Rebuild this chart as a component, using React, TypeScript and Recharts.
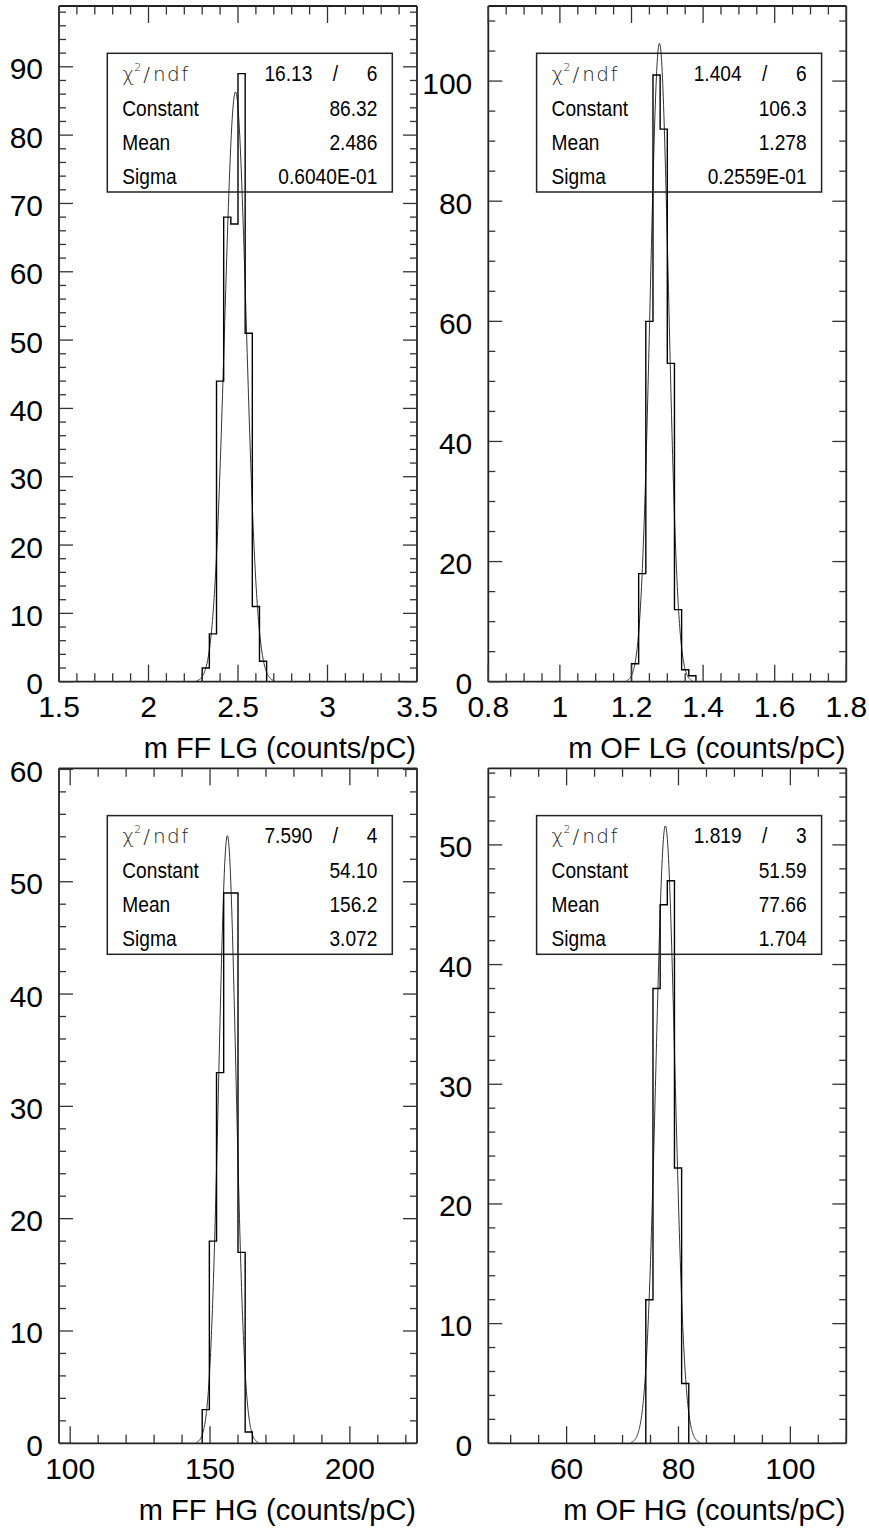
import React from 'react';
import { ComposedChart, Line, XAxis, YAxis } from 'recharts';

// ---------- Panel 1 : m FF LG ----------
const ffLgTitle = 'm FF LG (counts/pC)';
const ffLgCounts = [2, 7, 44, 68, 67, 89, 51, 11, 3];
const ffLgFirstEdge = 2.3;
const ffLgBinWidth = 0.04;
const ffLgFitParams = [86.32, 2.486, 0.0604]; // constant, mean, sigma
const ffLgStats = ['16.13', '6', '86.32', '2.486', '0.6040E-01'];
const ffLgXDomain = [1.5, 3.5];
const ffLgXMajor = [1.5, 2, 2.5, 3, 3.5];
const ffLgXLabels = ['1.5', '2', '2.5', '3', '3.5'];
const ffLgYMax = 98.9;
const ffLgYMajor = [0, 10, 20, 30, 40, 50, 60, 70, 80, 90];
const ffLgYLabels = ['0', '10', '20', '30', '40', '50', '60', '70', '80', '90'];

// ---------- Panel 2 : m OF LG ----------
const ofLgTitle = 'm OF LG (counts/pC)';
const ofLgCounts = [3, 18, 60, 101, 92, 53, 12, 2, 1];
const ofLgFirstEdge = 1.2;
const ofLgBinWidth = 0.02;
const ofLgFitParams = [106.3, 1.278, 0.02559];
const ofLgStats = ['1.404', '6', '106.3', '1.278', '0.2559E-01'];
const ofLgXDomain = [0.8, 1.8];
const ofLgXMajor = [0.8, 1, 1.2, 1.4, 1.6, 1.8];
const ofLgXLabels = ['0.8', '1', '1.2', '1.4', '1.6', '1.8'];
const ofLgYMax = 112.5;
const ofLgYMajor = [0, 20, 40, 60, 80, 100];
const ofLgYLabels = ['0', '20', '40', '60', '80', '100'];

// ---------- Panel 3 : m FF HG ----------
const ffHgTitle = 'm FF HG (counts/pC)';
const ffHgCounts = [3, 18, 33, 49, 49, 17, 1];
const ffHgFirstEdge = 147.2;
const ffHgBinWidth = 2.56;
const ffHgFitParams = [54.1, 156.2, 3.072];
const ffHgStats = ['7.590', '4', '54.10', '156.2', '3.072'];
const ffHgXDomain = [96, 224];
const ffHgXMajor = [100, 150, 200];
const ffHgXLabels = ['100', '150', '200'];
const ffHgYMax = 60.1;
const ffHgYMajor = [0, 10, 20, 30, 40, 50, 60];
const ffHgYLabels = ['0', '10', '20', '30', '40', '50', '60'];

// ---------- Panel 4 : m OF HG ----------
const ofHgTitle = 'm OF HG (counts/pC)';
const ofHgCounts = [12, 38, 45, 47, 23, 5];
const ofHgFirstEdge = 74.16;
const ofHgBinWidth = 1.28;
const ofHgFitParams = [51.59, 77.66, 1.704];
const ofHgStats = ['1.819', '3', '51.59', '77.66', '1.704'];
const ofHgXDomain = [46, 110];
const ofHgXMajor = [60, 80, 100];
const ofHgXLabels = ['60', '80', '100'];
const ofHgYMax = 56.4;
const ofHgYMajor = [0, 10, 20, 30, 40, 50];
const ofHgYLabels = ['0', '10', '20', '30', '40', '50'];

const statNames = ['Constant', 'Mean', 'Sigma'];

const FONT = '"Liberation Sans", Arial, Helvetica, sans-serif';
const FRAME = '#222';
const TICK = '#333';

function steps(lo: number, hi: number, step: number) {
  const out: number[] = [];
  const n = Math.round((hi - lo) / step);
  for (let i = 0; i <= n; i++) out.push(+(lo + i * step).toFixed(6));
  return out;
}

function mergeTicks(major: number[], minor: number[]) {
  const all = [...major, ...minor].map((v) => +v.toFixed(6));
  return Array.from(new Set(all)).sort((a, b) => a - b);
}

function histSteps(first: number, width: number, counts: number[]) {
  const pts = [{ x: first, y: 0 }];
  counts.forEach((c, i) => pts.push({ x: +(first + i * width).toFixed(6), y: c }));
  pts.push({ x: +(first + counts.length * width).toFixed(6), y: 0 });
  return pts;
}

// fitted gaussian drawn from the fit parameters shown in the stats box
function gaussCurve(p: number[]) {
  const [c, m, s] = p;
  const pts: { x: number; y: number }[] = [];
  const n = 240;
  const lo = m - 3.6 * s;
  const hi = m + 3.6 * s;
  for (let i = 0; i <= n; i++) {
    const x = lo + ((hi - lo) * i) / n;
    pts.push({ x, y: c * Math.exp(-0.5 * ((x - m) / s) ** 2) });
  }
  return pts;
}

function majorIndex(majors: number[], v: number) {
  return majors.findIndex((m) => Math.abs(m - v) < 1e-6);
}

const makeXTick = (majors: number[], labels: string[], side: 'bottom' | 'top') => (props: any) => {
  const { x, y, payload } = props;
  const idx = majorIndex(majors, payload.value);
  const len = idx >= 0 ? 17 : 8.5;
  const dir = side === 'bottom' ? -1 : 1;
  return (
    <g>
      <line x1={x} y1={y} x2={x} y2={y + dir * len} stroke={TICK} strokeWidth={1.3} />
      {side === 'bottom' && idx >= 0 && (
        <text x={x} y={y + 35.5} textAnchor="middle" fontFamily={FONT} fontSize={30} fill="#000">
          {labels[idx]}
        </text>
      )}
    </g>
  );
};

const makeYTick = (majors: number[], labels: string[], side: 'left' | 'right') => (props: any) => {
  const { x, y, payload } = props;
  const idx = majorIndex(majors, payload.value);
  const len = idx >= 0 ? 14 : 7;
  const dir = side === 'left' ? 1 : -1;
  return (
    <g>
      <line x1={x} y1={y} x2={x + dir * len} y2={y} stroke={TICK} strokeWidth={1.3} />
      {side === 'left' && idx >= 0 && (
        <text x={x - 16} y={y + 12.5} textAnchor="end" fontFamily={FONT} fontSize={30} fill="#000">
          {labels[idx]}
        </text>
      )}
    </g>
  );
};

type Cfg = {
  title: string;
  counts: number[];
  firstEdge: number;
  binWidth: number;
  fit: number[];
  stats: string[];
  xDomain: number[];
  xMajor: number[];
  xLabels: string[];
  xMinor: number[];
  yMax: number;
  yMajor: number[];
  yLabels: string[];
  yMinor: number[];
};

// plot-area box (px inside panel) -> margins, accounting for 1px axis bands
function Panel({ left, top, width, height, plot, cfg }: any) {
  const c: Cfg = cfg;
  const xTicks = mergeTicks(c.xMajor, c.xMinor);
  const yTicks = mergeTicks(c.yMajor, c.yMinor);
  const hist = histSteps(c.firstEdge, c.binWidth, c.counts);
  const fit = gaussCurve(c.fit);
  const plotL = plot.left;
  const plotT = plot.top;
  const plotR = width - plot.right;
  const plotB = height - plot.bottom;
  const margin = { left: plot.left - 1, right: plot.right - 1, top: plot.top - 1, bottom: plot.bottom - 1 };
  const bx = plotL + 48.3;
  const by = plotT + 47.3;
  const sx = 'scale(0.87,1)';
  const axisCommon = {
    allowDataOverflow: true,
    interval: 0 as const,
    tickSize: 0,
    tickMargin: 0,
    tickLine: false,
    axisLine: { stroke: FRAME, strokeWidth: 1.8 },
  };
  return (
    <div style={{ position: 'absolute', left, top, width, height }}>
      <ComposedChart width={width} height={height} margin={margin}>
        <XAxis
          xAxisId="b"
          type="number"
          dataKey="x"
          domain={c.xDomain}
          ticks={xTicks}
          height={1}
          {...axisCommon}
          tick={makeXTick(c.xMajor, c.xLabels, 'bottom')}
        />
        <XAxis
          xAxisId="t"
          orientation="top"
          type="number"
          dataKey="x"
          domain={c.xDomain}
          ticks={xTicks}
          height={1}
          {...axisCommon}
          tick={makeXTick(c.xMajor, c.xLabels, 'top')}
        />
        <YAxis
          yAxisId="l"
          type="number"
          domain={[0, c.yMax]}
          ticks={yTicks}
          width={1}
          {...axisCommon}
          tick={makeYTick(c.yMajor, c.yLabels, 'left')}
        />
        <YAxis
          yAxisId="r"
          orientation="right"
          type="number"
          domain={[0, c.yMax]}
          ticks={yTicks}
          width={1}
          {...axisCommon}
          tick={makeYTick(c.yMajor, c.yLabels, 'right')}
        />
        <Line
          xAxisId="b"
          yAxisId="l"
          data={fit}
          dataKey="y"
          type="linear"
          stroke="#333"
          strokeWidth={1}
          dot={false}
          activeDot={false}
          isAnimationActive={false}
        />
        <Line
          xAxisId="b"
          yAxisId="l"
          data={hist}
          dataKey="y"
          type="stepAfter"
          stroke="#000"
          strokeWidth={1.4}
          dot={false}
          activeDot={false}
          isAnimationActive={false}
        />
      </ComposedChart>
      <svg
        width={width}
        height={height}
        style={{ position: 'absolute', left: 0, top: 0, pointerEvents: 'none' }}
      >
        <rect x={bx} y={by} width={285} height={138.7} fill="none" stroke={FRAME} strokeWidth={1.5} />
        <text
          x={bx + 15}
          y={by + 27.8}
          fontFamily='"DejaVu Sans", sans-serif'
          fontWeight={200}
          fontSize={20}
          fill="#222"
        >
          χ
          <tspan dy={-10} fontSize={11}>2</tspan>
          <tspan dy={10} dx={2}>/</tspan>
          <tspan dx={3} letterSpacing={1.5}>ndf</tspan>
        </text>
        <g transform={`translate(${bx + 205},${by + 27.8}) ${sx}`}>
          <text textAnchor="end" fontFamily={FONT} fontSize={22} fill="#000">{c.stats[0]}</text>
        </g>
        <g transform={`translate(${bx + 228},${by + 27.8}) ${sx}`}>
          <text textAnchor="middle" fontFamily={FONT} fontSize={22} fill="#000">/</text>
        </g>
        <g transform={`translate(${bx + 270},${by + 27.8}) ${sx}`}>
          <text textAnchor="end" fontFamily={FONT} fontSize={22} fill="#000">{c.stats[1]}</text>
        </g>
        {statNames.map((name, i) => (
          <g key={name}>
            <g transform={`translate(${bx + 15},${by + 62.2 + i * 34.2}) ${sx}`}>
              <text textAnchor="start" fontFamily={FONT} fontSize={22} fill="#000">{name}</text>
            </g>
            <g transform={`translate(${bx + 270},${by + 62.2 + i * 34.2}) ${sx}`}>
              <text textAnchor="end" fontFamily={FONT} fontSize={22} fill="#000">{c.stats[i + 2]}</text>
            </g>
          </g>
        ))}
        <text x={plotR - 1} y={plotB + 76.5} textAnchor="end" fontFamily={FONT} fontSize={29} fill="#000">
          {c.title}
        </text>
      </svg>
    </div>
  );
}

const cfg1: Cfg = {
  title: ffLgTitle, counts: ffLgCounts, firstEdge: ffLgFirstEdge, binWidth: ffLgBinWidth,
  fit: ffLgFitParams, stats: ffLgStats, xDomain: ffLgXDomain, xMajor: ffLgXMajor, xLabels: ffLgXLabels,
  xMinor: steps(1.5, 3.5, 0.1), yMax: ffLgYMax, yMajor: ffLgYMajor, yLabels: ffLgYLabels, yMinor: steps(0, 98, 2),
};
const cfg2: Cfg = {
  title: ofLgTitle, counts: ofLgCounts, firstEdge: ofLgFirstEdge, binWidth: ofLgBinWidth,
  fit: ofLgFitParams, stats: ofLgStats, xDomain: ofLgXDomain, xMajor: ofLgXMajor, xLabels: ofLgXLabels,
  xMinor: steps(0.8, 1.8, 0.05), yMax: ofLgYMax, yMajor: ofLgYMajor, yLabels: ofLgYLabels, yMinor: steps(0, 110, 5),
};
const cfg3: Cfg = {
  title: ffHgTitle, counts: ffHgCounts, firstEdge: ffHgFirstEdge, binWidth: ffHgBinWidth,
  fit: ffHgFitParams, stats: ffHgStats, xDomain: ffHgXDomain, xMajor: ffHgXMajor, xLabels: ffHgXLabels,
  xMinor: steps(100, 220, 10), yMax: ffHgYMax, yMajor: ffHgYMajor, yLabels: ffHgYLabels, yMinor: steps(0, 60, 2),
};
const cfg4: Cfg = {
  title: ofHgTitle, counts: ofHgCounts, firstEdge: ofHgFirstEdge, binWidth: ofHgBinWidth,
  fit: ofHgFitParams, stats: ofHgStats, xDomain: ofHgXDomain, xMajor: ofHgXMajor, xLabels: ofHgXLabels,
  xMinor: steps(50, 110, 5), yMax: ofHgYMax, yMajor: ofHgYMajor, yLabels: ofHgYLabels, yMinor: steps(0, 56, 2),
};

export default function App() {
  return (
    <div style={{ position: 'absolute', left: 0, top: 0, width: 869, height: 1533, background: '#fff' }}>
      <Panel left={0} top={0} width={460} height={766}
        plot={{ top: 6, right: 43, bottom: 84.3, left: 59 }} cfg={cfg1} />
      <Panel left={410} top={0} width={459} height={766}
        plot={{ top: 6, right: 22.7, bottom: 84.3, left: 78.3 }} cfg={cfg2} />
      <Panel left={0} top={740} width={460} height={793}
        plot={{ top: 28.3, right: 43, bottom: 89.7, left: 59 }} cfg={cfg3} />
      <Panel left={410} top={740} width={459} height={793}
        plot={{ top: 28.3, right: 22.7, bottom: 89.7, left: 78.3 }} cfg={cfg4} />
    </div>
  );
}
